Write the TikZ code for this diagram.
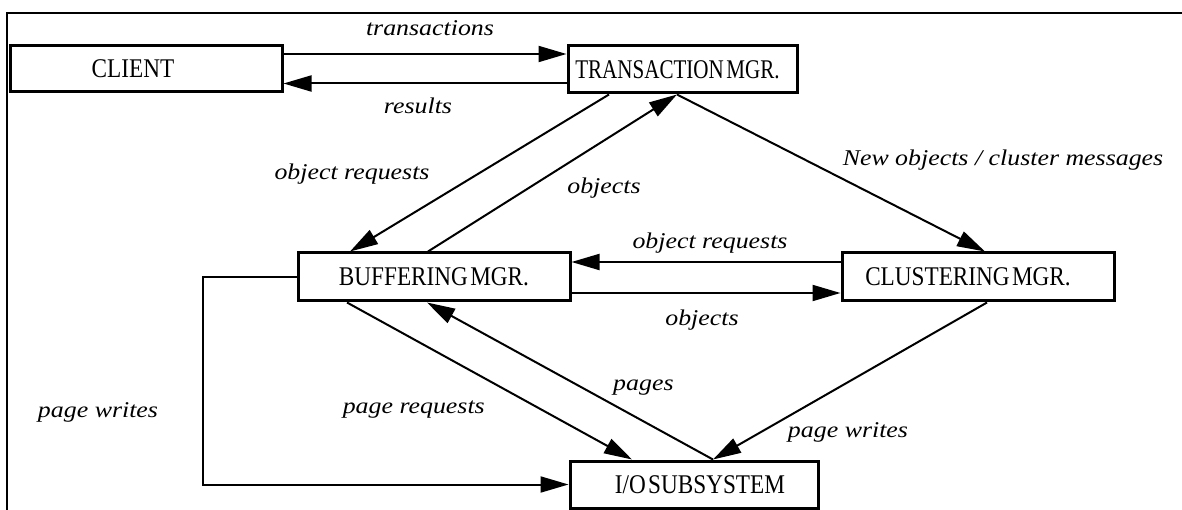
\documentclass[tikz,border=0pt]{standalone}
\usepackage{fontspec}
\setmainfont{Liberation Serif}
\newfontfamily\boxfont[FakeStretch=0.86,WordSpace=0.4]{Liberation Serif}
\newfontfamily\boxfontn[FakeStretch=0.78,WordSpace=0.5]{Liberation Serif}
\newfontfamily\lblfont[FakeStretch=1.15]{Liberation Serif}
\usetikzlibrary{arrows.meta}
\begin{document}
\begin{tikzpicture}[x=1pt,y=-1pt,
  mgr/.style={draw, line width=3pt, inner sep=0pt, font=\boxfont\fontsize{27}{27}\selectfont},
  lbl/.style={font=\lblfont\itshape\fontsize{22.5}{22.5}\selectfont, inner sep=0pt},
  arr/.style={line width=2pt, -{Triangle[length=28pt,width=16pt]}},
  frame/.style={line width=2.5pt}]
\useasboundingbox (0,0) rectangle (1182,510);
% frame (top and left edges only)
\draw[frame] (7,510) -- (7,13) -- (1182,13);
% boxes
\node[mgr, minimum width=272pt, minimum height=46pt] (client) at (146,69) {\kern-26pt CLIENT};
\node[mgr, minimum width=229pt, minimum height=47pt, font=\boxfontn\fontsize{27}{27}\selectfont] (tm) at (682.5,69.5) {\kern-10pt TRANSACTION MGR.};
\node[mgr, minimum width=272pt, minimum height=48pt] (bm) at (434,277) {BUFFERING MGR.};
\node[mgr, minimum width=272pt, minimum height=48pt] (cm) at (978,277) {\kern-20pt CLUSTERING MGR.};
\node[mgr, minimum width=248pt, minimum height=47pt] (io) at (694,484.5) {\kern12pt I/O SUBSYSTEM};
% connectors
\draw[arr] ([yshift=15pt]client.east) -- ([yshift=15pt]client.east -| tm.west);
\draw[arr] ([yshift=-14pt]tm.west) -- ([yshift=-14pt]tm.west -| client.east);
\draw[arr] ([xshift=-73.5pt]tm.south) -- ([xshift=-84pt]bm.north);
\draw[arr] ([xshift=-6pt]bm.north) -- ([xshift=-5.5pt]tm.south);
\draw[arr] ([xshift=-5.5pt]tm.south) -- ([xshift=7pt]cm.north);
\draw[arr] ([yshift=15pt]cm.west) -- ([yshift=15pt]cm.west -| bm.east);
\draw[arr] ([yshift=-16pt]bm.east) -- ([yshift=-16pt]bm.east -| cm.west);
\draw[arr] ([xshift=-87pt]bm.south) -- ([xshift=-62pt]io.north);
\draw[arr] ([xshift=19pt]io.north) -- ([xshift=-7pt]bm.south);
\draw[arr] ([xshift=9pt]cm.south) -- ([xshift=19pt]io.north);
\draw[arr] (bm.west) -- ++(-94,0) |- (io.west);
% labels
\node[lbl] (l1) at (430,28) {transactions};
\node[lbl] (l2) at (418,106) {results};
\node[lbl] (l3) at (352,174) {object requests};
\node[lbl] (l4) at (604,188) {objects};
\node[lbl] (l5) at (1003,160) {New objects / cluster messages};
\node[lbl] (l6) at (710,243) {object requests};
\node[lbl] (l7) at (702,320) {objects};
\node[lbl] (l8) at (98,412) {page writes};
\node[lbl, anchor=base west] (l9) at (613,390) {pages};
\node[lbl, anchor=base east] (l10) at (485,413) {page requests};
\node[lbl] (l11) at (848,432) {page writes};
\end{tikzpicture}
\end{document}
